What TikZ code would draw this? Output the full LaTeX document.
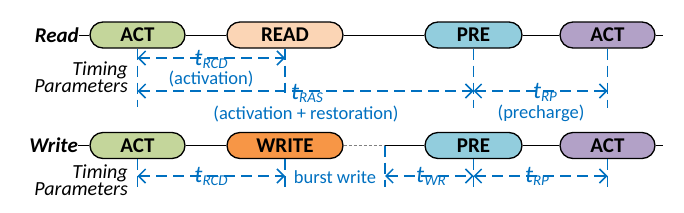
\documentclass[tikz,border=0pt]{standalone}
\usepackage{fontspec}
\setmainfont{Carlito}
\usepackage{tikz}
\usetikzlibrary{shapes.misc, arrows.meta, positioning, calc}
\definecolor{actgreen}{RGB}{196, 214, 155}
\definecolor{readpeach}{RGB}{251, 213, 181}
\definecolor{preblue}{RGB}{146, 205, 221}
\definecolor{actpurple}{RGB}{178, 161, 199}
\definecolor{writeorange}{RGB}{247, 150, 70}
\definecolor{timingblue}{RGB}{0, 112, 192}
\newcommand{\tpar}[1]{\textit{t}\raisebox{-3pt}{\fontsize{15}{15}\selectfont\textit{#1}}}

\begin{document}
\begin{tikzpicture}[
    x=1pt, y=-1pt,
    cmd/.style={rounded rectangle, draw=black, line width=1.3pt, minimum height=26pt, inner sep=0pt, font=\fontsize{21}{21}\selectfont\bfseries},
    rowlbl/.style={anchor=east, inner sep=0pt, font=\fontsize{21}{21}\selectfont\bfseries\itshape},
    timinglbl/.style={anchor=east, align=right, inner sep=0pt, font=\fontsize{20}{17}\selectfont\itshape},
    timeline/.style={line width=1pt, black},
    guide/.style={timingblue, line width=1.5pt, dash pattern=on 11pt off 6pt},
    span/.style={guide, {Straight Barb[length=7pt, width=14pt]}-{Straight Barb[length=7pt, width=14pt]}},
    param/.style={text=timingblue, inner sep=0pt, anchor=base, font=\fontsize{24}{24}\selectfont},
    note/.style={text=timingblue, inner sep=0pt, anchor=base, font=\fontsize{18.5}{18.5}\selectfont}
]
\useasboundingbox (0,0) rectangle (684,212);

% Read row
\node[rowlbl] (readlbl) at (79,35) {Read};
\node[cmd, fill=actgreen, minimum width=95pt] (racta) at (137.5,35) {ACT};
\node[cmd, fill=readpeach, minimum width=116pt] (rread) at (285,35) {READ};
\node[cmd, fill=preblue, minimum width=97pt] (rpre) at (473.5,35) {PRE};
\node[cmd, fill=actpurple, minimum width=95pt] (ractb) at (607.5,35) {ACT};
\coordinate (rend) at (663,35);

\draw[timeline] (readlbl.east) -- (racta.west);
\draw[timeline] (racta.east) -- (rread.west);
\draw[timeline] (rread.east) -- (rpre.west);
\draw[timeline] (rpre.east) -- (ractb.west);
\draw[timeline] (ractb.east) -- (rend);

\node[timinglbl] (rtiming) at (128,77) {Timing\\Parameters};

% Read timing guides
\coordinate (rg1) at (racta.south |- 0,107);
\coordinate (rg2) at (rread.south |- 0,93);
\coordinate (rg3) at (rpre.south |- 0,108);
\coordinate (rg4) at (ractb.south |- 0,108);
\draw[guide] (racta.south) -- (rg1);
\draw[guide] (rread.south) -- (rg2);
\draw[guide] (rpre.south) -- (rg3);
\draw[guide] (ractb.south) -- (rg4);

\coordinate (rcd1) at (racta.south |- 0,58);
\coordinate (rcd2) at (rread.south |- 0,58);
\coordinate (ras1) at (racta.south |- 0,91);
\coordinate (ras2) at (rpre.south |- 0,91);
\coordinate (rrp2) at (ractb.south |- 0,91);
\draw[span] (rcd1) -- (rcd2);
\draw[span] (ras1) -- (ras2);
\draw[span] (ras2) -- (rrp2);

\node[param] (rtrcd) at (211,65) {\tpar{RCD}};
\node[note] (ractv) at (211,84) {(activation)};
\node[param] (rtras) at (307,99) {\tpar{RAS}};
\node[note] (rrest) at (306,119) {(activation + restoration)};
\node[param] (rtrp) at (545,98) {\tpar{RP}};
\node[note] (rprech) at (541,118) {(precharge)};

% Write row
\node[rowlbl] (writelbl) at (78,145.5) {Write};
\node[cmd, fill=actgreen, minimum width=95pt] (wacta) at (137.5,145.5) {ACT};
\node[cmd, fill=writeorange, minimum width=116pt] (wwrite) at (285,145.5) {WRITE};
\node[cmd, fill=preblue, minimum width=97pt] (wpre) at (473.5,145.5) {PRE};
\node[cmd, fill=actpurple, minimum width=95pt] (wactb) at (607.5,145.5) {ACT};
\coordinate (wburst) at (385,145.5);
\coordinate (wend) at (663,145.5);

\draw[timeline] (writelbl.east) -- (wacta.west);
\draw[timeline] (wacta.east) -- (wwrite.west);
\draw[gray, line width=1pt, dash pattern=on 3pt off 2pt] (wwrite.east) -- (wburst);
\draw[timeline] (wburst) -- (wpre.west);
\draw[timeline] (wpre.east) -- (wactb.west);
\draw[timeline] (wactb.east) -- (wend);

\node[timinglbl] (wtiming) at (128,180) {Timing\\Parameters};

% Write timing guides
\coordinate (wg1) at (wacta.south |- 0,191);
\coordinate (wg2) at (wwrite.south |- 0,191);
\coordinate (wg3) at (wburst |- 0,187);
\coordinate (wg4) at (wpre.south |- 0,192);
\coordinate (wg5) at (wactb.south |- 0,192);
\draw[guide] (wacta.south) -- (wg1);
\draw[guide] (wwrite.south) -- (wg2);
\draw[guide] (wburst) -- (wg3);
\draw[guide] (wpre.south) -- (wg4);
\draw[guide] (wactb.south) -- (wg5);

\coordinate (wrcd1) at (wacta.south |- 0,176);
\coordinate (wrcd2) at (wwrite.south |- 0,176);
\coordinate (wwr1) at (wburst |- 0,176);
\coordinate (wwr2) at (wpre.south |- 0,176);
\coordinate (wrp2) at (wactb.south |- 0,176);
\draw[span] (wrcd1) -- (wrcd2);
\draw[span] (wwr1) -- (wwr2);
\draw[span] (wwr2) -- (wrp2);

\node[param] (wtrcd) at (211,182) {\tpar{RCD}};
\node[note] (wburstlbl) at (335,183) {burst write};
\node[param] (wtwr) at (431,182) {\tpar{WR}};
\node[param] (wtrp) at (537,182) {\tpar{RP}};
\end{tikzpicture}
\end{document}
